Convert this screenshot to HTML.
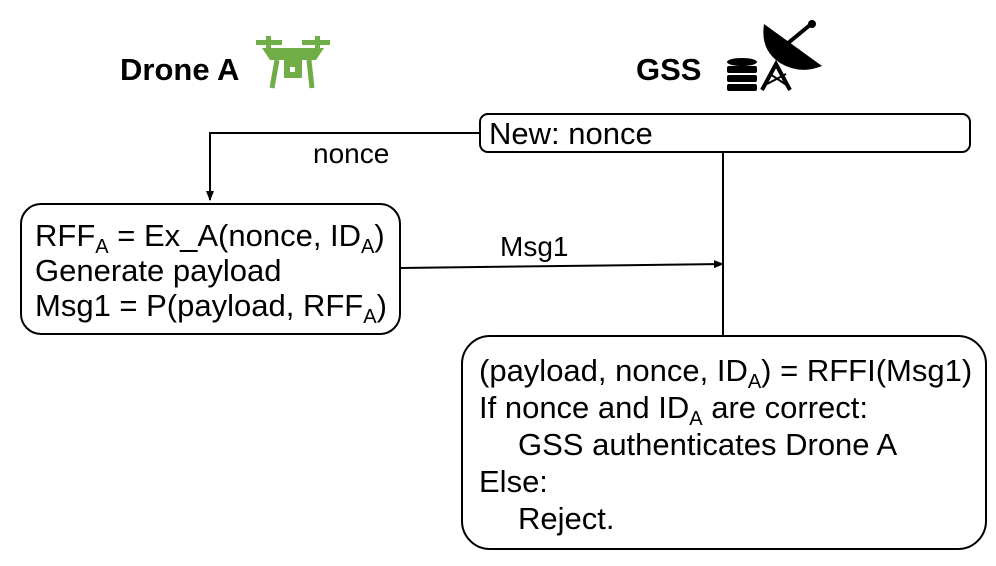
<!DOCTYPE html>
<html><head><style>
body{margin:0;background:#fff;}
svg text{font-family:"Liberation Sans",Arial,sans-serif;fill:#000;}
</style></head><body>
<svg width="996" height="561" viewBox="0 0 996 561" xmlns="http://www.w3.org/2000/svg">
<defs><marker id="a" markerWidth="10" markerHeight="10" refX="9" refY="5" orient="auto" markerUnits="userSpaceOnUse"><path d="M0,1 L10,5 L0,9 z" fill="#000"/></marker></defs>
<text x="120" y="80" font-size="31" font-weight="bold">Drone A</text>
<g fill="#70ad47" stroke="#70ad47">
<rect x="256" y="40" width="26" height="5" stroke="none"/><rect x="302" y="40" width="28" height="5" stroke="none"/>
<rect x="266" y="36" width="5" height="14" stroke="none"/><rect x="315" y="36" width="5" height="14" stroke="none"/>
<path d="M262,48 L324,48 L316,60 L270,60 z" stroke="none"/>
<path d="M277,60 L272,88" stroke-width="5" fill="none"/><path d="M309,60 L312,88" stroke-width="5" fill="none"/>
<rect x="284" y="60" width="18" height="18" stroke="none"/>
</g>
<rect x="290" y="67" width="5" height="5" fill="#fff"/>
<text x="636" y="80" font-size="31" font-weight="bold">GSS</text>
<g fill="#000">
<ellipse cx="742" cy="62" rx="15" ry="4"/>
<rect x="727" y="66" width="30" height="7" rx="2"/><rect x="727" y="75" width="30" height="7" rx="2"/><rect x="727" y="84" width="30" height="7" rx="2"/>
<path d="M764,24 Q760,50 780,63 Q800,75 822,66 z"/>
<path d="M782,48 L810,25" stroke="#000" stroke-width="4"/><circle cx="812" cy="24" r="4"/>
<path d="M762,90 L776,64 L790,90" stroke="#000" stroke-width="4" fill="none"/>
<path d="M767,84 L786,74 M770,74 L788,86" stroke="#000" stroke-width="2"/>
</g>
<rect x="480" y="114" width="490" height="38" rx="8" fill="#fff" stroke="#000" stroke-width="2"/>
<text x="489" y="144" font-size="31">New: nonce</text>
<path d="M480,133 L210,133 L210,200" stroke="#000" stroke-width="2" fill="none" marker-end="url(#a)"/>
<text x="313" y="163" font-size="28">nonce</text>
<rect x="21" y="204" width="379" height="130" rx="20" fill="#fff" stroke="#000" stroke-width="2"/>
<text font-size="31"><tspan x="35" y="246">RFF<tspan font-size="20" dy="7">A</tspan><tspan dy="-7"> = Ex_A(nonce, ID</tspan><tspan font-size="20" dy="7">A</tspan><tspan dy="-7">)</tspan></tspan></text>
<text x="35" y="281" font-size="31">Generate payload</text>
<text font-size="31"><tspan x="35" y="316">Msg1 = P(payload, RFF<tspan font-size="20" dy="7">A</tspan><tspan dy="-7">)</tspan></tspan></text>
<path d="M400,268 L723,264" stroke="#000" stroke-width="2" fill="none" marker-end="url(#a)"/>
<text x="500" y="256" font-size="28">Msg1</text>
<path d="M723,152 L723,336" stroke="#000" stroke-width="2"/>
<rect x="462" y="336" width="524" height="213" rx="28" fill="#fff" stroke="#000" stroke-width="2"/>
<text font-size="31"><tspan x="479" y="381">(payload, nonce, ID<tspan font-size="20" dy="7">A</tspan><tspan dy="-7">) = RFFI(Msg1)</tspan></tspan></text>
<text font-size="31"><tspan x="479" y="418">If nonce and ID<tspan font-size="20" dy="7">A</tspan><tspan dy="-7"> are correct:</tspan></tspan></text>
<text x="518" y="455" font-size="31">GSS authenticates Drone A</text>
<text x="479" y="492" font-size="31">Else:</text>
<text x="518" y="529" font-size="31">Reject.</text>
</svg>
</body></html>
